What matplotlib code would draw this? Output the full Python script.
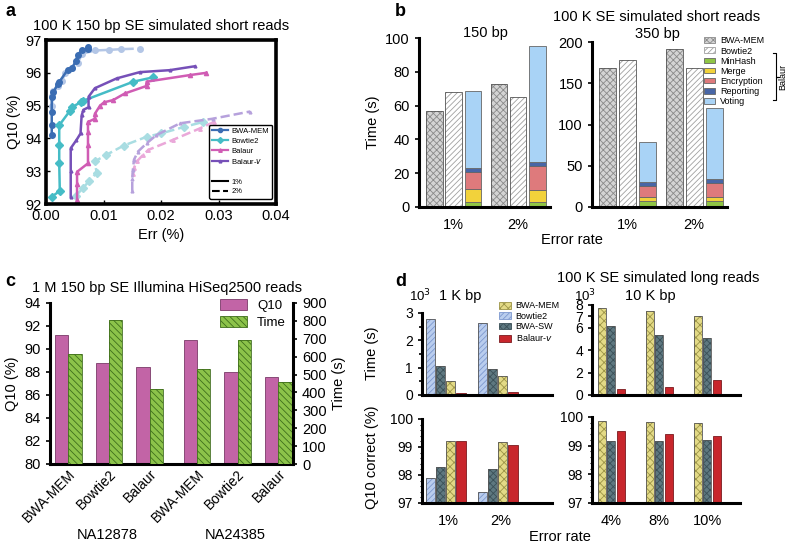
import numpy as np
import matplotlib
matplotlib.use('Agg')
import matplotlib.pyplot as plt
from matplotlib.lines import Line2D
from matplotlib.patches import Patch

plt.rcParams['font.family'] = ['Liberation Sans', 'DejaVu Sans']
plt.rcParams['hatch.linewidth'] = 0.6

# ---------------- Panel a data ----------------
bwa1_x = [0.001, 0.001, 0.001, 0.001, 0.0013, 0.002, 0.0023, 0.0038, 0.0045, 0.0052, 0.0055, 0.0062, 0.0073, 0.0073]
bwa1_y = [94.1, 94.4, 94.8, 95.25, 95.4, 95.65, 95.72, 96.1, 96.15, 96.35, 96.55, 96.68, 96.72, 96.8]
bwa2_x = [0.0011, 0.0011, 0.0012, 0.002, 0.0028, 0.0033, 0.0045, 0.0055, 0.0063, 0.0085, 0.011, 0.013, 0.0163]
bwa2_y = [95.0, 95.3, 95.45, 95.6, 95.75, 96.0, 96.15, 96.3, 96.58, 96.68, 96.7, 96.72, 96.74]
bt1_x = [0.001, 0.0024, 0.0023, 0.0023, 0.0023, 0.0042, 0.0045, 0.006, 0.0065, 0.0152, 0.0186]
bt1_y = [92.22, 92.4, 93.25, 93.8, 94.4, 94.85, 94.95, 95.1, 95.15, 95.73, 95.86]
bt2_x = [0.0052, 0.0065, 0.0075, 0.0088, 0.0085, 0.0105, 0.0135, 0.0175, 0.020, 0.024, 0.0273]
bt2_y = [92.25, 92.5, 92.7, 92.95, 93.3, 93.5, 93.78, 94.05, 94.15, 94.35, 94.5]
bal1_x = [0.0054, 0.0054, 0.0054, 0.0073, 0.0073, 0.0073, 0.0073, 0.0085, 0.0085, 0.0094, 0.0101, 0.0117, 0.0137, 0.0175, 0.0175, 0.025, 0.0279]
bal1_y = [92.12, 92.6, 92.98, 93.24, 93.8, 94.2, 94.5, 94.6, 94.75, 95.0, 95.1, 95.17, 95.37, 95.6, 95.73, 95.93, 96.0]
bal2_x = [0.0151, 0.0153, 0.0158, 0.0169, 0.0178, 0.022, 0.0267, 0.0292]
bal2_y = [92.9, 93.1, 93.3, 93.5, 93.65, 93.95, 94.3, 94.5]
balv1_x = [0.0043, 0.0043, 0.0043, 0.0053, 0.006, 0.0062, 0.0065, 0.0074, 0.0074, 0.0085, 0.0123, 0.0163, 0.0215, 0.0259]
balv1_y = [92.22, 93.0, 93.7, 93.95, 94.15, 94.7, 94.87, 94.95, 95.27, 95.53, 95.83, 96.02, 96.08, 96.2]
balv2_x = [0.015, 0.015, 0.0151, 0.0153, 0.016, 0.0175, 0.0192, 0.0233, 0.029, 0.0355]
balv2_y = [92.4, 92.75, 93.03, 93.35, 93.6, 93.85, 94.1, 94.46, 94.6, 94.82]

# ---------------- Panel b data ----------------
b_groups = ['1%', '2%']
b150_bwa = [57, 73]
b150_bowtie = [68, 65]
b150_minhash = [3, 3]
b150_merge = [7.5, 7]
b150_encrypt = [10, 14]
b150_report = [2.5, 2.5]
b150_voting = [45.5, 68.5]
b350_bwa = [169, 192]
b350_bowtie = [178, 169]
b350_minhash = [7, 7]
b350_merge = [5, 5]
b350_encrypt = [13, 17]
b350_report = [5, 5]
b350_voting = [49, 86]

# ---------------- Panel c data ----------------
c_tools = ['BWA-MEM', 'Bowtie2', 'Balaur']
c_samples = ['NA12878', 'NA24385']
c_q10 = [91.2, 88.8, 88.45, 90.8, 88.0, 87.6]
c_time = [617, 804, 418, 532, 695, 456]

# ---------------- Panel d data ----------------
d1_groups = ['1%', '2%']
d1_tools = ['Bowtie2', 'BWA-SW', 'BWA-MEM', 'Balaur-v']
d1_time = {'Bowtie2': [2.78, 2.65], 'BWA-SW': [1.05, 0.95], 'BWA-MEM': [0.5, 0.7], 'Balaur-v': [0.07, 0.1]}
d1_q10 = {'Bowtie2': [97.88, 97.38], 'BWA-SW': [98.27, 98.2], 'BWA-MEM': [99.22, 99.17], 'Balaur-v': [99.22, 99.07]}
d10_groups = ['4%', '8%', '10%']
d10_tools = ['BWA-MEM', 'BWA-SW', 'Balaur-v']
d10_time = {'BWA-MEM': [7.7, 7.45, 7.0], 'BWA-SW': [6.1, 5.3, 5.05], 'Balaur-v': [0.55, 0.7, 1.3]}
d10_q10 = {'BWA-MEM': [99.85, 99.83, 99.8], 'BWA-SW': [99.17, 99.18, 99.2], 'Balaur-v': [99.52, 99.4, 99.32]}

W, H = 788, 547
fig = plt.figure(figsize=(W / 100, H / 100), dpi=100)


def rect(l, r, t, b):
    return [l / W, (H - b) / H, (r - l) / W, (b - t) / H]


def style_spines(ax, sides=('left', 'bottom'), lw=2.2):
    for s in ['left', 'right', 'top', 'bottom']:
        if s in sides:
            ax.spines[s].set_linewidth(lw)
        else:
            ax.spines[s].set_visible(False)


def hbar(ax, x, h, width, face, hatch, hcol, edge='#555555', bottom=0, lw=0.6):
    ax.bar(x, h, width, bottom=bottom, color=face, hatch=hatch, edgecolor=hcol, linewidth=0)
    ax.bar(x, h, width, bottom=bottom, fill=False, edgecolor=edge, linewidth=lw)


# ================= Panel a =================
ax = fig.add_axes(rect(46, 276, 40, 204))
c_bwa, c_bwa_l = '#3b6db3', '#b3c6e6'
c_bt, c_bt_l = '#45bcc6', '#a9dde2'
c_bal, c_bal_l = '#d05cb4', '#eaa8d9'
c_balv, c_balv_l = '#7650b8', '#b6a1dc'
ax.plot(bwa2_x, bwa2_y, '--', color=c_bwa_l, marker='o', ms=4, lw=1.8)
ax.plot(bt2_x, bt2_y, '--', color=c_bt_l, marker='D', ms=4, lw=1.8)
ax.plot(bal2_x, bal2_y, '--', color=c_bal_l, marker='^', ms=2.5, lw=1.8)
ax.plot(balv2_x, balv2_y, '--', color=c_balv_l, marker='^', ms=2, lw=1.8)
ax.plot(bwa1_x, bwa1_y, '-', color=c_bwa, marker='o', ms=4, lw=1.8)
ax.plot(bt1_x, bt1_y, '-', color=c_bt, marker='D', ms=4, lw=1.8)
ax.plot(bal1_x, bal1_y, '-', color=c_bal, marker='^', ms=3, lw=1.8)
ax.plot(balv1_x, balv1_y, '-', color=c_balv, marker='^', ms=2, lw=1.8)
ax.set_xlim(0, 0.04)
ax.set_ylim(92, 97)
ax.set_xticks([0, 0.01, 0.02, 0.03, 0.04])
ax.set_xticklabels(['0.00', '0.01', '0.02', '0.03', '0.04'])
ax.set_yticks([92, 93, 94, 95, 96, 97])
ax.tick_params(direction='in', labelsize=10.5, length=3, width=1)
for s in ax.spines.values():
    s.set_linewidth(2.6)
ax.set_xlabel('Err (%)', fontsize=10.5, labelpad=4)
ax.set_ylabel('Q10 (%)', fontsize=10.5, labelpad=3)
ax.set_title('100 K 150 bp SE simulated short reads', fontsize=10.5, pad=7)
hand = [Line2D([], [], color=c_bwa, marker='o', ms=3, lw=1.6),
        Line2D([], [], color=c_bt, marker='D', ms=3, lw=1.6),
        Line2D([], [], color=c_bal, marker='^', ms=2.5, lw=1.6),
        Line2D([], [], color=c_balv, marker='^', ms=2, lw=1.6),
        Line2D([], [], color='none'),
        Line2D([], [], color='black', lw=1.5),
        Line2D([], [], color='black', lw=1.5, ls='--')]
labs = ['BWA-MEM', 'Bowtie2', 'Balaur', 'Balaur-$v$', '', '1%', '2%']
leg = ax.legend(hand, labs, loc='lower right', fontsize=5.5, frameon=True, fancybox=True,
                handlelength=2.0, labelspacing=0.32, borderpad=0.4, handletextpad=0.5,
                bbox_to_anchor=(1.0, 0.01), framealpha=1)
leg.get_frame().set_edgecolor('black')
leg.get_frame().set_linewidth(1.0)

# ================= Panel b =================
bw = 0.86
goff = [0, 3.35]
colors_stack = ['#8fc545', '#f2d23b', '#de7a7c', '#4866a6', '#a9d3f6']
for (l, r, t, ylim, ytk, bwa, bt, stacks, ttl) in [
        (419, 550, 38, 100, [0, 20, 40, 60, 80, 100], b150_bwa, b150_bowtie,
         [b150_minhash, b150_merge, b150_encrypt, b150_report, b150_voting], '150 bp'),
        (592, 727, 42, 200, [0, 50, 100, 150, 200], b350_bwa, b350_bowtie,
         [b350_minhash, b350_merge, b350_encrypt, b350_report, b350_voting], '350 bp')]:
    ax = fig.add_axes(rect(l, r, t, 207))
    for gi, g in enumerate(goff):
        hbar(ax, g + 0, bwa[gi], bw, '#d4d4d4', 'xxxxx', '#8a8a8a')
        hbar(ax, g + 1, bt[gi], bw, 'white', '//////', '#a0a0a0')
        bottom = 0
        for si, st in enumerate(stacks):
            ax.bar(g + 2, st[gi], bw, bottom=bottom, color=colors_stack[si], edgecolor='#666666', linewidth=0.6)
            bottom += st[gi]
    ax.set_xlim(-0.8, 6.0)
    ax.set_ylim(0, ylim)
    ax.set_yticks(ytk)
    ax.set_xticks([g + 1 for g in goff])
    ax.set_xticklabels(b_groups)
    ax.tick_params(axis='y', direction='out', labelsize=10.5, length=3, width=1.2)
    ax.tick_params(axis='x', length=0, labelsize=10.5, pad=8)
    style_spines(ax)
    if ttl == '150 bp':
        ax.set_ylabel('Time (s)', fontsize=10.5, labelpad=4)

fig.text(485 / W, 1 - 33 / H, '150 bp', fontsize=10.5, ha='center', va='center')
fig.text(657 / W, 1 - 34 / H, '350 bp', fontsize=10.5, ha='center', va='center')
fig.text(657 / W, 1 - 17 / H, '100 K SE simulated short reads', fontsize=10.5, ha='center', va='center')
fig.text(572 / W, 1 - 240 / H, 'Error rate', fontsize=10.5, ha='center', va='center')
bhand = [Patch(facecolor='#d4d4d4', hatch='xxxxx', edgecolor='#8a8a8a', linewidth=0.6),
         Patch(facecolor='white', hatch='//////', edgecolor='#a0a0a0', linewidth=0.6)]
bhand += [Patch(facecolor=c, edgecolor='#666666', linewidth=0.6) for c in colors_stack]
blabs = ['BWA-MEM', 'Bowtie2', 'MinHash', 'Merge', 'Encryption', 'Reporting', 'Voting']
fig.legend(bhand, blabs, loc='upper left', bbox_to_anchor=(699 / W, 1 - 31 / H), fontsize=6.5,
           frameon=False, handlelength=1.2, handleheight=0.6, labelspacing=0.12, borderpad=0.1,
           handletextpad=0.5)
# brace
bx = 776 / W
y1, y2 = 1 - 53 / H, 1 - 100 / H
fig.add_artist(Line2D([bx - 0.004, bx, bx, bx + 0.004, bx, bx, bx - 0.004],
                      [y1, y1, (y1 + y2) / 2, (y1 + y2) / 2, (y1 + y2) / 2, y2, y2],
                      color='black', lw=0.8, transform=fig.transFigure))
fig.text(783 / W, (y1 + y2) / 2, 'Balaur', rotation=90, fontsize=6.5, ha='center', va='center')

# ================= Panel c =================
ax = fig.add_axes(rect(50, 293, 303, 464))
cpos = [0, 1, 2, 3.16, 4.16, 5.16]
cw = 0.33
ax.bar(np.array(cpos) - cw / 2, np.array(c_q10) - 80, cw, bottom=80, color='#c264a6', edgecolor='#7a3a68', linewidth=0.6)
ax.set_ylim(80, 94)
ax.set_yticks([80, 82, 84, 86, 88, 90, 92, 94])
ax.set_xlim(-0.45, 5.52)
ax.set_xticks(cpos)
ax.set_xticklabels(c_tools * 2, rotation=45, ha='right', rotation_mode='anchor', fontsize=10)
ax.tick_params(axis='y', direction='out', labelsize=10.5, length=3, width=1.2)
ax.tick_params(axis='x', length=0, pad=2)
style_spines(ax, ('left', 'bottom'))
ax.set_ylabel('Q10 (%)', fontsize=10.5, labelpad=4)
ax2 = ax.twinx()
for p, t in zip(cpos, c_time):
    hbar(ax2, p + cw / 2, t, cw, '#8cc34a', '\\\\\\\\\\', '#3f6e1c', edge='#3f6e1c')
ax2.set_ylim(0, 900)
ax2.set_yticks(range(0, 901, 100))
ax2.tick_params(axis='y', direction='out', labelsize=10.5, length=3, width=1.2)
style_spines(ax2, ('right',))
ax2.spines['right'].set_linewidth(2.2)
ax2.set_ylabel('Time (s)', fontsize=10.5, labelpad=4)
fig.text(167 / W, 1 - 288 / H, '1 M 150 bp SE Illumina HiSeq2500 reads', fontsize=10.5, ha='center', va='center')
chand = [Patch(facecolor='#c264a6', edgecolor='#7a3a68', linewidth=0.6),
         Patch(facecolor='#8cc34a', hatch='\\\\\\\\\\', edgecolor='#3f6e1c', linewidth=0.6)]
ax2.legend(chand, ['Q10', 'Time'], loc='upper right', bbox_to_anchor=(1.02, 1.1), fontsize=9.5,
           frameon=False, handlelength=2.0, handleheight=0.9, labelspacing=0.3)
fig.text(107 / W, 1 - 535 / H, c_samples[0], fontsize=10.5, ha='center', va='center')
fig.text(235 / W, 1 - 535 / H, c_samples[1], fontsize=10.5, ha='center', va='center')

# ================= Panel d =================
dstyle = {'BWA-MEM': ('#e3da86', 'xxxx', '#9c9447'),
          'Bowtie2': ('#b9cdee', '//////', '#7d98cf'),
          'BWA-SW': ('#5e7880', 'xxxxx', '#3b5058'),
          'Balaur-v': ('#c8262c', None, '#c8262c')}

def dbars(ax, tools, groups_n, gsp, vals, w, bottom=0):
    for ti, tname in enumerate(tools):
        face, hatch, hc = dstyle[tname]
        for gi in range(groups_n):
            x = gi * gsp + ti
            v = vals[tname][gi]
            if hatch:
                hbar(ax, x, v - bottom, w, face, hatch, hc, bottom=bottom, edge='#555555')
            else:
                ax.bar(x, v - bottom, w, bottom=bottom, color=face, edgecolor='#7a1a1e', linewidth=0.6)

# top-left
ax = fig.add_axes(rect(422, 552, 313, 395))
dbars(ax, d1_tools, 2, 5.1, d1_time, 0.9)
ax.set_xlim(-0.8, 11.9)
ax.set_ylim(0, 3)
ax.set_yticks([0, 1, 2, 3])
ax.set_yticks([0.5, 1.5, 2.5], minor=True)
ax.set_xticks([])
ax.tick_params(axis='y', which='both', direction='out', labelsize=10, length=3, width=1.2)
ax.tick_params(axis='y', which='minor', length=2)
style_spines(ax)
# bottom-left
ax = fig.add_axes(rect(422, 552, 419, 503))
dbars(ax, d1_tools, 2, 5.1, d1_q10, 0.9, bottom=97)
ax.set_xlim(-0.8, 11.9)
ax.set_ylim(97, 100)
ax.set_yticks([97, 98, 99, 100])
ax.set_yticks(np.arange(97.2, 100, 0.2), minor=True)
ax.set_xticks([1.75, 5.1 + 1.75])
ax.set_xticklabels(d1_groups)
ax.tick_params(axis='y', which='both', direction='out', labelsize=10, length=3, width=1.2)
ax.tick_params(axis='y', which='minor', length=1.8, width=0.8)
ax.tick_params(axis='x', length=0, labelsize=10.5, pad=8)
style_spines(ax)
# top-right
ax = fig.add_axes(rect(592, 740, 305, 395))
dbars(ax, d10_tools, 3, 5, d10_time, 0.85)
ax.set_xlim(-1, 14.4)
ax.set_ylim(0, 8)
ax.set_yticks([0, 2, 4, 6, 7, 8])
ax.set_xticks([])
ax.tick_params(axis='y', direction='out', labelsize=10, length=3, width=1.2)
style_spines(ax)
# bottom-right
ax = fig.add_axes(rect(592, 740, 417, 503))
dbars(ax, d10_tools, 3, 5, d10_q10, 0.85, bottom=97)
ax.set_xlim(-1, 14.4)
ax.set_ylim(97, 100)
ax.set_yticks([97, 98, 99, 100])
ax.set_yticks(np.arange(97.2, 100, 0.2), minor=True)
ax.set_xticks([1, 6, 11])
ax.set_xticklabels(d10_groups)
ax.tick_params(axis='y', which='both', direction='out', labelsize=10, length=3, width=1.2)
ax.tick_params(axis='y', which='minor', length=1.8, width=0.8)
ax.tick_params(axis='x', length=0, labelsize=10.5, pad=8)
style_spines(ax)

fig.text(658 / W, 1 - 278 / H, '100 K SE simulated long reads', fontsize=10.5, ha='center', va='center')
fig.text(420 / W, 1 - 296 / H, '10$^3$', fontsize=9.5, ha='center', va='center')
fig.text(585 / W, 1 - 296 / H, '10$^3$', fontsize=9.5, ha='center', va='center')
fig.text(460 / W, 1 - 296 / H, '1 K bp', fontsize=10.5, ha='center', va='center')
fig.text(650 / W, 1 - 296 / H, '10 K bp', fontsize=10.5, ha='center', va='center')
fig.text(560 / W, 1 - 537 / H, 'Error rate', fontsize=10.5, ha='center', va='center')
fig.text(372 / W, 1 - 353 / H, 'Time (s)', fontsize=10.5, ha='center', va='center', rotation=90)
fig.text(372 / W, 1 - 457 / H, 'Q10 correct (%)', fontsize=10.5, ha='center', va='center', rotation=90)
dh = []
for tname in ['BWA-MEM', 'Bowtie2', 'BWA-SW', 'Balaur-v']:
    face, hatch, hc = dstyle[tname]
    dh.append(Patch(facecolor=face, hatch=hatch, edgecolor=hc if hatch else '#7a1a1e', linewidth=0.6))
fig.legend(dh, ['BWA-MEM', 'Bowtie2', 'BWA-SW', 'Balaur-$v$'], loc='upper left',
           bbox_to_anchor=(494 / W, 1 - 296 / H), fontsize=6.5, frameon=False,
           handlelength=1.3, handleheight=0.8, labelspacing=0.15, borderpad=0.1, handletextpad=0.5)

# panel letters
for lx, ly, lt in [(5, 12, 'a'), (395, 12, 'b'), (5, 282, 'c'), (395, 282, 'd')]:
    fig.text(lx / W, 1 - ly / H, lt, fontsize=13, fontweight='bold', ha='left', va='center')

fig.savefig('out.png', dpi=100)
